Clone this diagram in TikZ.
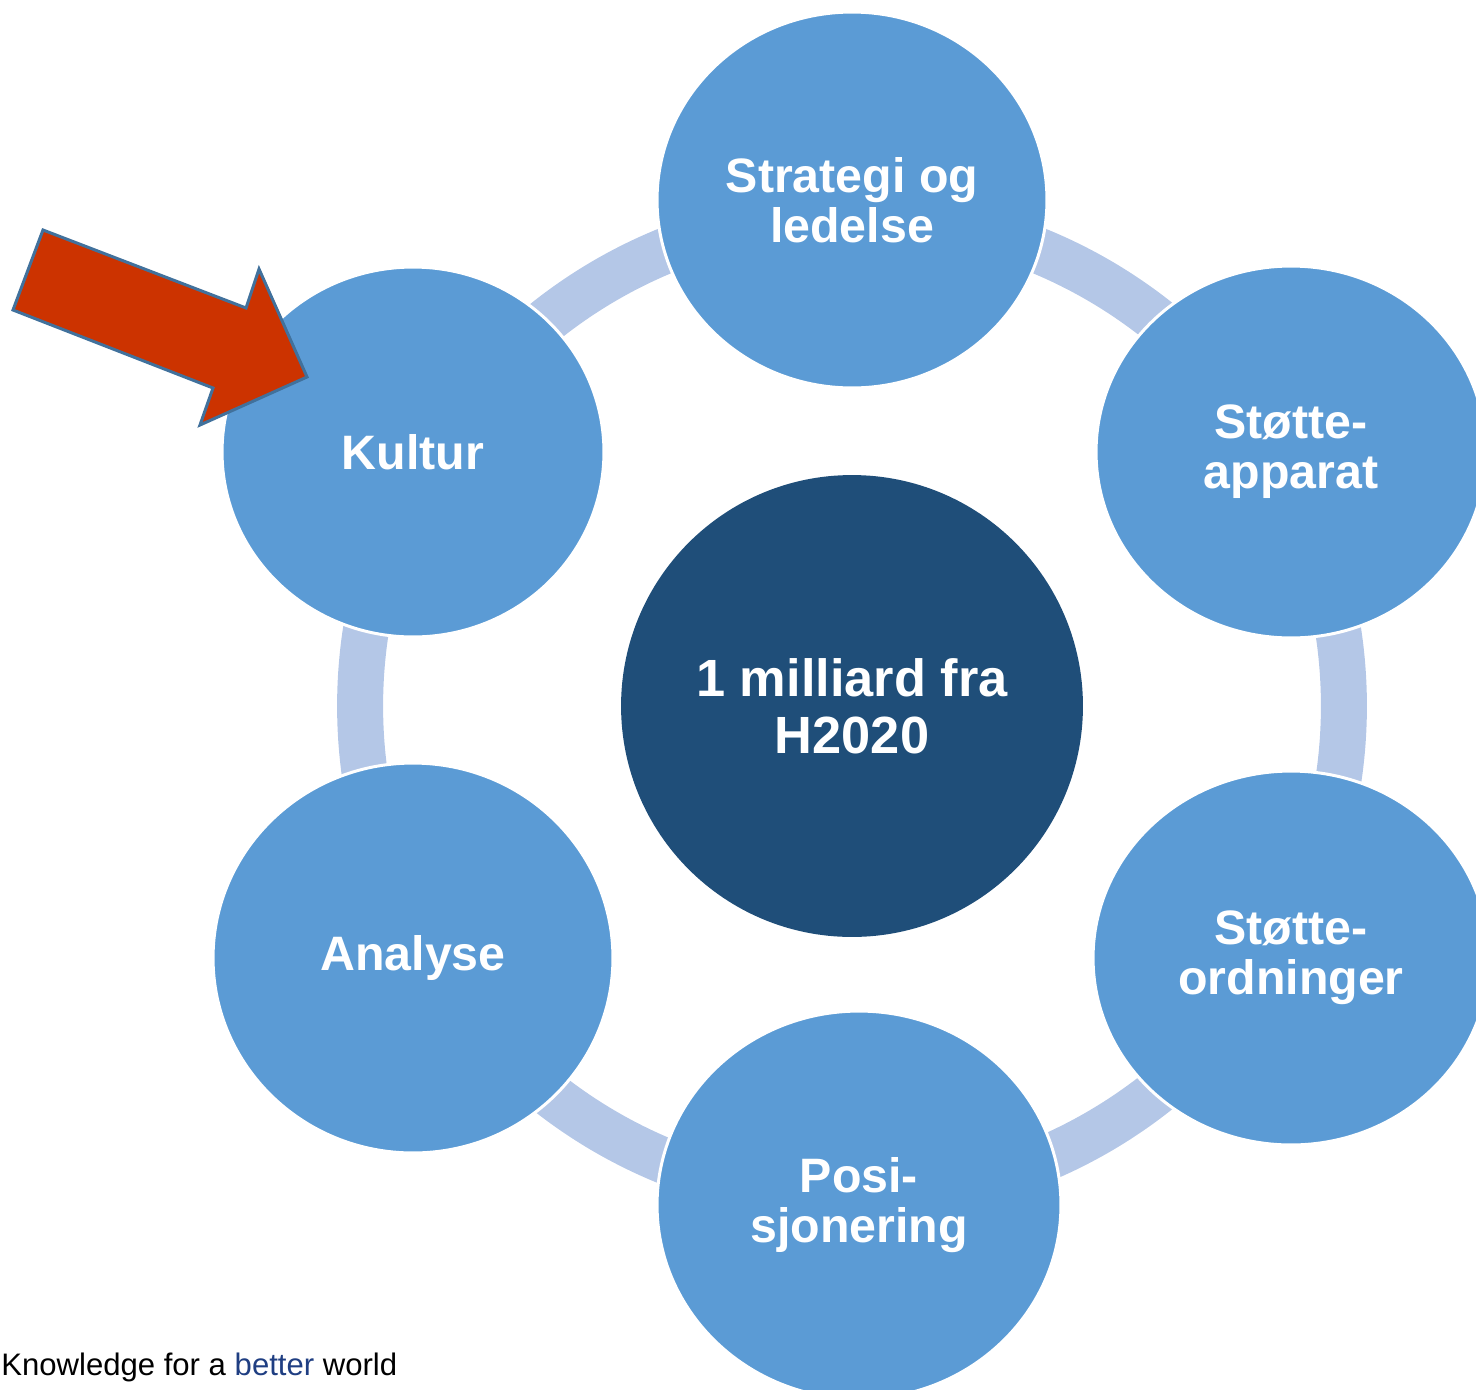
\documentclass[tikz,border=0pt]{standalone}
\usepackage{fontspec}
\setmainfont{Liberation Sans}
\usetikzlibrary{shapes.geometric}
\definecolor{ringblue}{HTML}{B4C7E7}
\definecolor{satblue}{HTML}{5B9BD5}
\definecolor{hubblue}{HTML}{1F4E79}
\definecolor{arrowred}{HTML}{CC3300}
\definecolor{arrowedge}{HTML}{41719C}
\definecolor{betterblue}{HTML}{1F3E82}
\begin{document}
\begin{tikzpicture}[x=0.02cm,y=-0.02cm,
sat/.style={ellipse,fill=satblue,draw=white,line width=0.06cm,text=white,
  font=\bfseries\fontsize{27.5}{28.5}\selectfont,align=center,inner sep=0pt},
hub/.style={circle,fill=hubblue,text=white,minimum size=9.24cm,
  font=\bfseries\fontsize{29.8}{32.4}\selectfont,align=center,inner sep=0pt}
]
\useasboundingbox (0,0) rectangle (1476,1389);
% ring behind the circles
\draw[ringblue,line width=0.92cm] (852,706) circle (9.84cm);
\node[hub] (hub) at (852,706) {1 milliard fra\\H2020};
\node[sat,minimum width=7.8cm,minimum height=7.52cm] (strategi) at (852,200) {Strategi og\\ledelse};
\node[sat,minimum width=7.8cm,minimum height=7.44cm] (apparat) at (1291,452) {Støtte-\\apparat};
\node[sat,minimum width=7.92cm,minimum height=7.48cm] (ordninger) at (1291,958) {Støtte-\\ordninger};
\node[sat,minimum width=8.08cm,minimum height=7.76cm] (posi) at (859,1205) {Posi-\\sjonering};
\node[sat,minimum width=8cm,minimum height=7.8cm] (analyse) at (413,958) {Analyse};
\node[sat,minimum width=7.64cm,minimum height=7.4cm] (kultur) at (413,452) {Kultur};
% block arrow pointing at Kultur
\draw[fill=arrowred,draw=arrowedge,line width=0.06cm] (43,230) -- (246,308) -- (259,269)
  -- (307,377) -- (200,425) -- (213,388) -- (13,310) -- cycle;
\node[anchor=base west,inner sep=0pt,font=\fontsize{17.7}{20}\selectfont] (motto) at (1,1375)
  {Knowledge for a \textcolor{betterblue}{better} world};
\end{tikzpicture}
\end{document}
